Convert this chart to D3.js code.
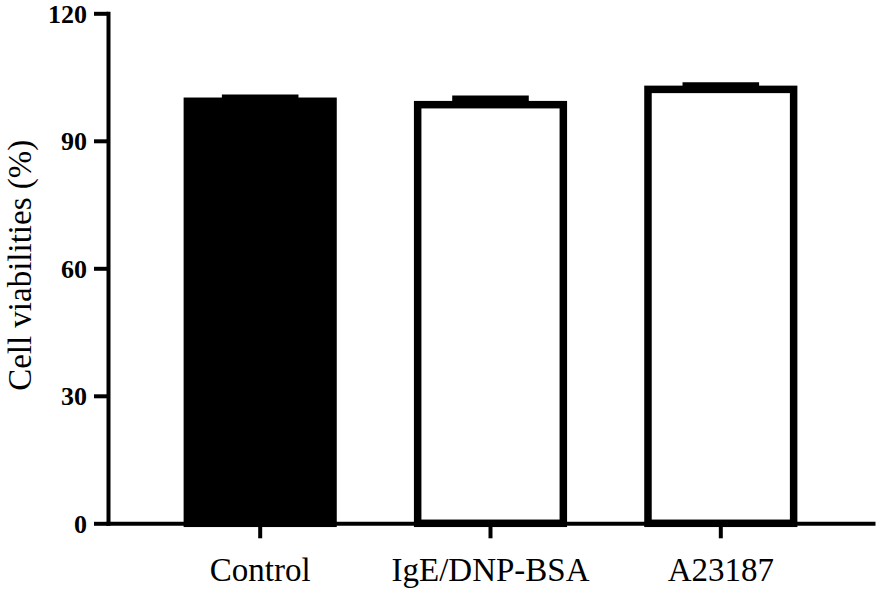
<html>

<head>
    <script src="https://d3js.org/d3.v7.min.js"></script>
    <style>
        body {
            margin: 0;
            background: #fff;
        }
    </style>
</head>

<body>
    <div id="graph-container"></div>

    <script>
        //////////////////////////////////////////DATA//////////////////////////////////////////
        const categories = ["Control", "IgE/DNP-BSA", "A23187"];
        const viabilities = [99.3, 98.5, 102.1];
        const sems = [0.7, 1.25, 0.8];
        const barFills = ["#000", "#fff", "#fff"];
        const yTicks = [0, 30, 60, 90, 120];
        const yLabel = "Cell viabilities (%)";

        //////////////////////////////////////////GRAPH VARIABLES//////////////////////////////////////////
        const width = 879;
        const height = 594;
        const fontFamily = "'Liberation Serif', 'Times New Roman', serif";
        const border = 7.5;

        const svg = d3.select("#graph-container").append("svg")
            .attr("width", width)
            .attr("height", height);

        //scales
        const x = d3.scaleBand()
            .domain(categories)
            .range([106, 875])
            .paddingInner(0.335)
            .paddingOuter(0.337);

        const y = d3.scaleLinear()
            .domain([0, 120])
            .range([523.3, 13.3]);

        const rows = categories.map((c, i) => ({ name: c, value: viabilities[i], sem: sems[i], fill: barFills[i] }));

        //////////////////////////////////////////BARS//////////////////////////////////////////
        const bars = svg.append("g");

        //error bars first, bar border covers the stem
        bars.selectAll("line.stem").data(rows)
            .join("line")
            .attr("class", "stem")
            .attr("x1", d => x(d.name) + x.bandwidth() / 2)
            .attr("x2", d => x(d.name) + x.bandwidth() / 2)
            .attr("y1", d => y(d.value))
            .attr("y2", d => y(d.value + d.sem))
            .attr("stroke", "#000")
            .attr("stroke-width", border);

        bars.selectAll("line.cap").data(rows)
            .join("line")
            .attr("class", "cap")
            .attr("x1", d => x(d.name) + x.bandwidth() / 4)
            .attr("x2", d => x(d.name) + x.bandwidth() * 3 / 4)
            .attr("y1", d => y(d.value + d.sem))
            .attr("y2", d => y(d.value + d.sem))
            .attr("stroke", "#000")
            .attr("stroke-width", border);

        bars.selectAll("rect").data(rows)
            .join("rect")
            .attr("x", d => x(d.name) + border / 2)
            .attr("width", x.bandwidth() - border)
            .attr("y", d => y(d.value))
            .attr("height", d => y(0) - y(d.value))
            .attr("fill", d => d.fill)
            .attr("stroke", "#000")
            .attr("stroke-width", border);

        //////////////////////////////////////////AXES//////////////////////////////////////////
        const yAxis = svg.append("g")
            .attr("transform", "translate(108,0)")
            .call(d3.axisLeft(y).tickValues(yTicks).tickSize(14).tickSizeOuter(0).tickPadding(7));

        yAxis.select(".domain")
            .attr("stroke-width", 4)
            .attr("stroke-linecap", "square");
        yAxis.selectAll(".tick line")
            .attr("stroke-width", 4);
        yAxis.selectAll(".tick text")
            .attr("dy", "0.34em")
            .style("font-family", fontFamily)
            .style("font-size", "26px")
            .style("font-weight", "bold")
            .attr("fill", "#000");

        const xAxis = svg.append("g")
            .attr("transform", "translate(0," + y(0) + ")")
            .call(d3.axisBottom(x).tickSize(15).tickSizeOuter(0).tickPadding(0));

        xAxis.select(".domain")
            .attr("stroke-width", 4);
        xAxis.selectAll(".tick line")
            .attr("stroke-width", 4);
        xAxis.selectAll(".tick text")
            .attr("y", 58)
            .attr("dy", 0)
            .style("font-family", fontFamily)
            .style("font-size", "33px")
            .attr("fill", "#000");

        //y axis title
        svg.append("text")
            .text(yLabel)
            .attr("transform", "translate(31," + y(60.7) + ") rotate(-90)")
            .attr("text-anchor", "middle")
            .style("font-family", fontFamily)
            .style("font-size", "33px")
            .attr("fill", "#000");
    </script>
</body>

</html>
